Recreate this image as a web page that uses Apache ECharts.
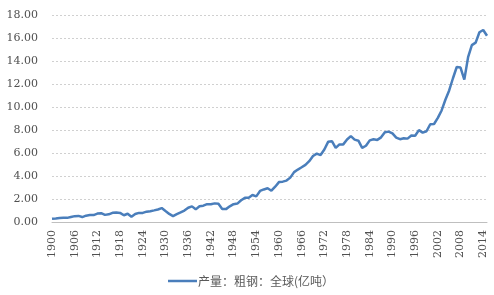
<!DOCTYPE html>
<html><head><meta charset="utf-8">
<script src="https://cdn.jsdelivr.net/npm/echarts@6/dist/echarts.min.js"></script>
<style>html,body{margin:0;padding:0;background:#fff}#c{width:494px;height:295px}</style>
</head><body><div id="c"></div>
<script>
const years = [];
for (let y = 1900; y <= 2015; y++) years.push(String(y));
const seriesName = '产量：粗钢：全球(亿吨）';
const production = [
0.28,0.31,0.35,0.36,0.36,0.44,0.51,0.53,0.43,0.55,
0.60,0.60,0.73,0.77,0.62,0.67,0.80,0.82,0.79,0.59,
0.72,0.45,0.69,0.79,0.79,0.90,0.94,1.01,1.09,1.21,
0.95,0.70,0.51,0.68,0.83,0.99,1.24,1.36,1.10,1.37,
1.42,1.55,1.55,1.62,1.58,1.13,1.12,1.36,1.55,1.60,
1.89,2.10,2.11,2.35,2.23,2.70,2.83,2.93,2.72,3.07,
3.47,3.51,3.60,3.86,4.34,4.56,4.76,4.97,5.29,5.74,
5.95,5.82,6.30,6.97,7.03,6.44,6.75,6.75,7.17,7.47,
7.16,7.07,6.45,6.63,7.10,7.19,7.14,7.36,7.80,7.86,
7.70,7.34,7.20,7.28,7.25,7.52,7.50,7.99,7.77,7.89,
8.50,8.52,9.05,9.70,10.63,11.44,12.50,13.48,13.43,12.38,
14.33,15.38,15.60,16.50,16.70,16.20
];
const chart = echarts.init(document.getElementById('c'));
chart.setOption({
  animation: false,
  grid: {left: 52, right: 7, top: 15, bottom: 73},
  legend: {
    bottom: 3, left: 163,
    icon: 'rect', itemWidth: 29, itemHeight: 2.5, itemGap: 4,
    textStyle: {color: '#595959', fontSize: 12, padding: [0, 0, 0, -4], fontFamily: 'Noto Sans CJK SC'},
    data: [seriesName]
  },
  xAxis: {
    type: 'category', data: years, boundaryGap: false,
    axisLine: {lineStyle: {color: '#bfbfbf', width: 1}},
    axisTick: {show: false},
    axisLabel: {interval: 5, rotate: 90, margin: 8, color: '#505050', fontSize: 11, fontFamily: 'DejaVu Serif'}
  },
  yAxis: {
    type: 'value', min: 0, max: 18, interval: 2,
    axisLine: {show: false}, axisTick: {show: false},
    axisLabel: {formatter: v => v.toFixed(2), margin: 14, color: '#505050', fontSize: 11, fontFamily: 'DejaVu Serif'},
    splitLine: {lineStyle: {color: '#d0d0d0', type: [2, 2], width: 1}}
  },
  series: [{
    name: seriesName, type: 'line', data: production, showSymbol: false,
    lineStyle: {color: '#4a7ebb', width: 2.5}, itemStyle: {color: '#4a7ebb'}
  }]
});
</script></body></html>
